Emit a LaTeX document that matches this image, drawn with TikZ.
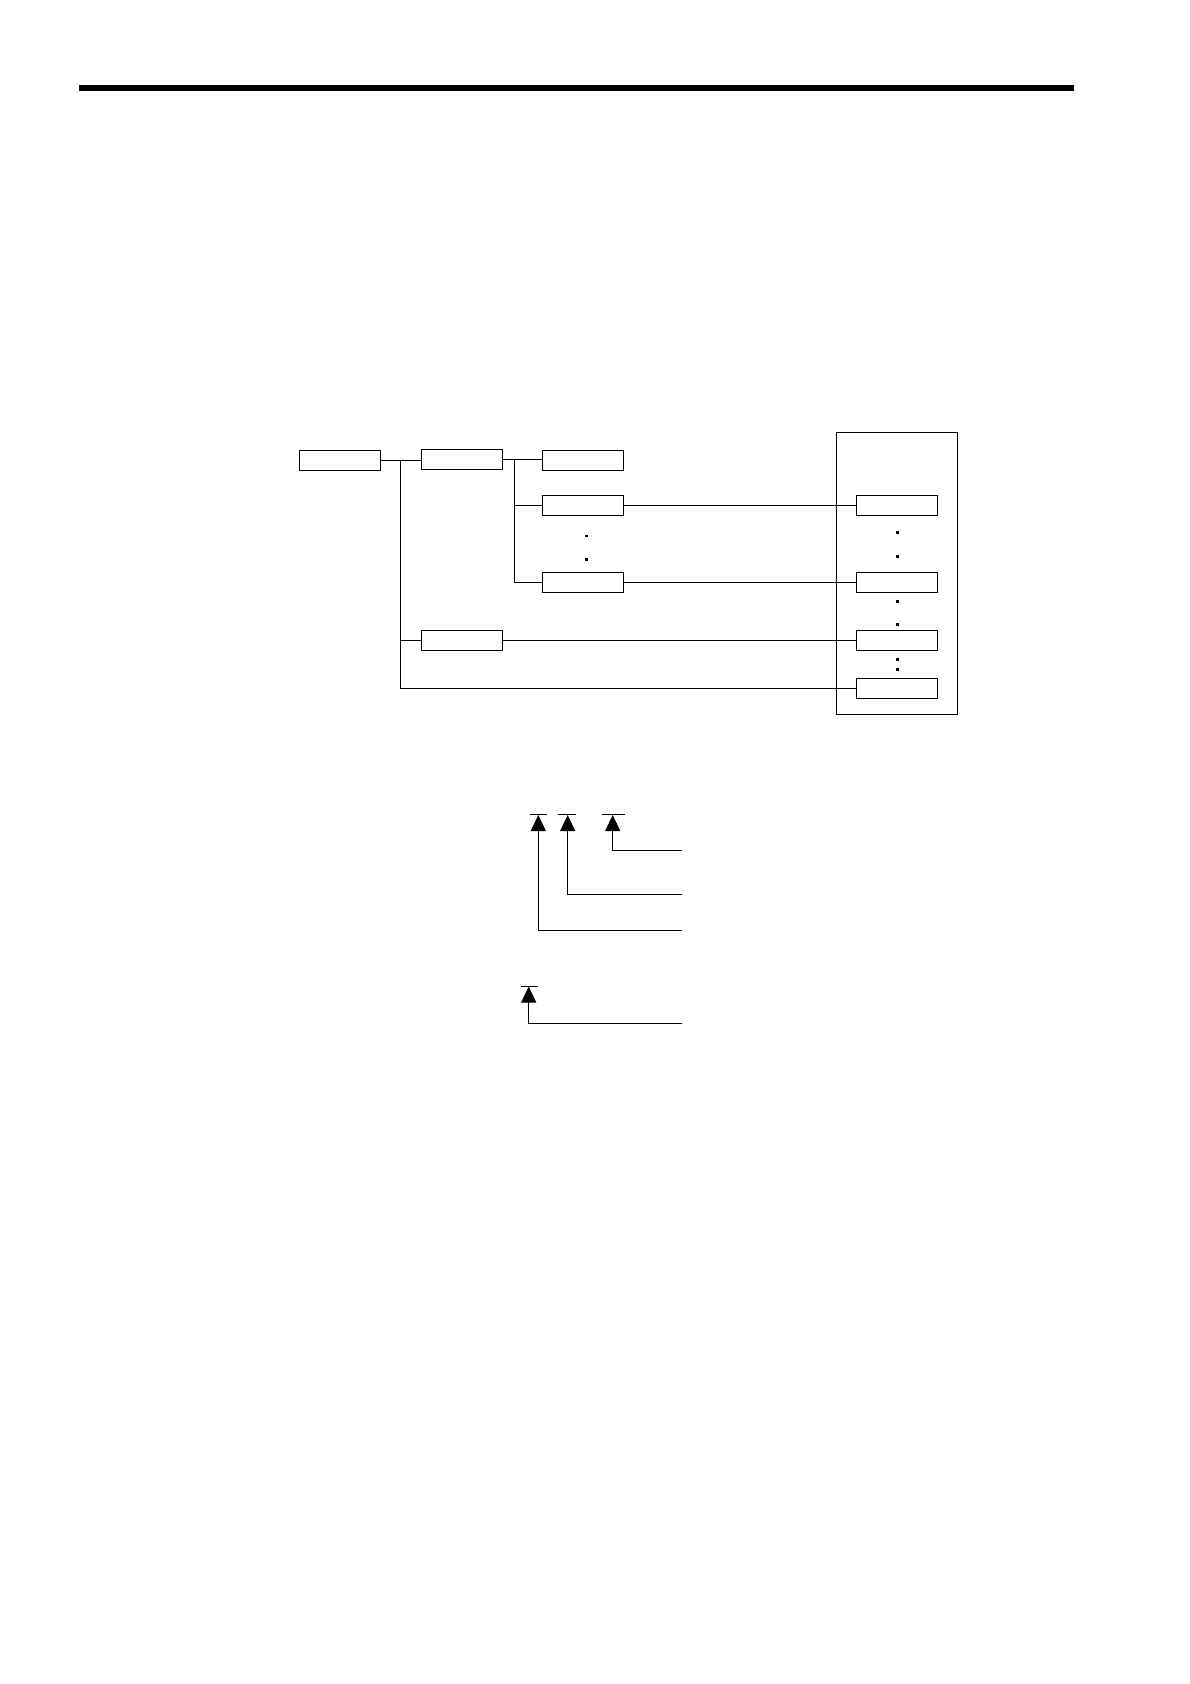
\documentclass[tikz,border=0pt]{standalone}
\usetikzlibrary{arrows.meta}
\tikzset{
  box/.style={draw, line width=1pt, minimum width=81pt, minimum height=20pt, inner sep=0pt, outer sep=0pt},
  wire/.style={line width=1pt},
  uparrow/.style={line width=1pt, -{Triangle[width=15pt,length=16pt]}},
  bar/.style={line width=1pt},
  dotmark/.style={fill=black}
}
\begin{document}
\begin{tikzpicture}[x=1pt,y=-1pt]
\useasboundingbox (0,0) rectangle (1190,1684);
% top rule
\fill (79,85.3) rectangle (1074,90.8);
% outer frame
\draw[line width=1pt] (836.3,432.3) rectangle (957.3,714);
% boxes
\node[box] (A) at (340,460) {};
\node[box] (B) at (461.8,459.5) {};
\node[box] (C) at (582.8,460.3) {};
\node[box] (D) at (582.8,505.8) {};
\node[box] (E) at (582.8,582.8) {};
\node[box] (F) at (461.8,640.3) {};
\node[box] (R1) at (897.3,505.8) {};
\node[box] (R2) at (897.3,582.8) {};
\node[box] (R3) at (897.3,640.3) {};
\node[box] (R4) at (897.3,688.3) {};
% junctions
\coordinate (J1) at (400.3,460);
\coordinate (J2) at (514.3,460);
% connectors
\draw[wire] (A.east) -- (B.west |- A.east);
\draw[wire] (J1) |- (R4.west);
\draw[wire] (J1) |- (F.west);
\draw[wire] (B.east) -- (C.west |- B.east);
\draw[wire] (J2) |- (E.west);
\draw[wire] (J2) |- (D.west);
\draw[wire] (D.east) -- (R1.west);
\draw[wire] (E.east) -- (R2.west);
\draw[wire] (F.east) -- (R3.west);
% dots
\foreach \px/\py in {586.3/536, 586.3/559.3, 897.3/532.3, 897.3/556.3, 897.3/601.3, 897.3/624.7, 897.3/659.3, 897.3/669.3}
  \fill[dotmark] (\px-1.4,\py-1.4) rectangle (\px+1.4,\py+1.4);
% lower legend
\coordinate (T1) at (538.3,815);
\coordinate (T2) at (567.7,815);
\coordinate (T3) at (612.7,815);
\coordinate (T4) at (528.7,986.5);
\coordinate (L3) at (682.3,850.3);
\coordinate (L2) at (682.3,894.3);
\coordinate (L1) at (682.3,930.3);
\coordinate (L4) at (682.3,1023.3);
\draw[bar] (530,814.3) -- (547.3,814.3);
\draw[bar] (557.7,814.3) -- (575.7,814.3);
\draw[bar] (601.7,814.3) -- (625,814.3);
\draw[bar] (520.7,986) -- (537.7,986);
\draw[uparrow] (L3) -| (T3);
\draw[uparrow] (L2) -| (T2);
\draw[uparrow] (L1) -| (T1);
\draw[uparrow] (L4) -| (T4);
\end{tikzpicture}
\end{document}
